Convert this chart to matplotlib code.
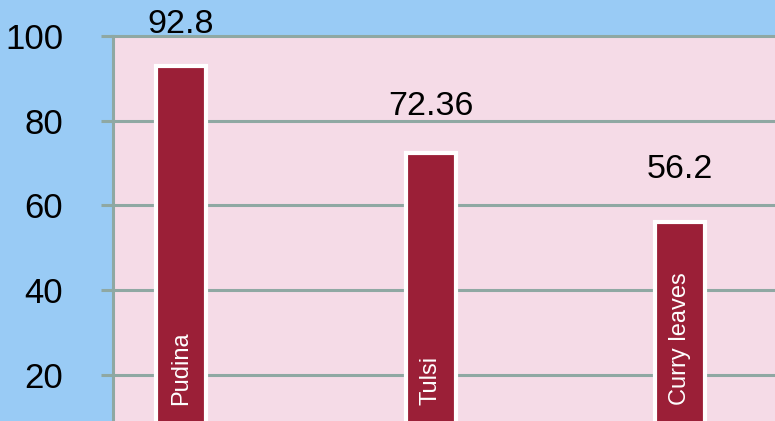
import matplotlib.pyplot as plt
import numpy as np

categories = ['Pudina', 'Tulsi', 'Curry leaves']
values = [92.8, 72.36, 56.2]
value_labels = ['92.8', '72.36', '56.2']
yticks = [20, 40, 60, 80, 100]

plt.rcParams['font.family'] = ['Liberation Sans', 'DejaVu Sans']

fig = plt.figure(figsize=(7.75, 4.21), dpi=100)
fig.patch.set_facecolor('#99cbf5')

# axes runs off the right and bottom edges like the cropped original
ax = fig.add_axes([113 / 775, 0, 1 - 113 / 775, 1 - 36 / 421])
ax.set_facecolor('#f5dbe7')

grid_c = '#8fa8a3'
x = np.arange(len(categories))
bars = ax.bar(x, values, width=0.2, color='#9b1f37', edgecolor='white',
              linewidth=3, zorder=3)

for xi, v, lab, off in zip(x, values, value_labels, [33, 38, 44]):
    ax.annotate(lab, (xi, v), xytext=(0, off), textcoords='offset pixels',
                ha='center', va='baseline', fontsize=24.5, color='black',
                annotation_clip=False)

for xi, cat in zip(x, categories):
    ax.text(xi, 12.9, cat, rotation=90, ha='center', va='bottom',
            color='white', fontsize=17, zorder=4)

ax.set_xlim(-0.273, 2.38)
ax.set_ylim(9.1, 100)
ax.set_yticks(yticks)
ax.set_xticks([])
ax.yaxis.grid(True, color=grid_c, linewidth=2.2, zorder=1)
for line in ax.get_ygridlines():
    line.set_clip_on(False)
ax.tick_params(axis='y', length=9, width=2.2, color=grid_c, labelsize=25,
               pad=27)

for s in ['top', 'right', 'bottom']:
    ax.spines[s].set_visible(False)
ax.spines['left'].set_color(grid_c)
ax.spines['left'].set_linewidth(2.2)

fig.savefig('out.png', dpi=100, facecolor=fig.get_facecolor())
